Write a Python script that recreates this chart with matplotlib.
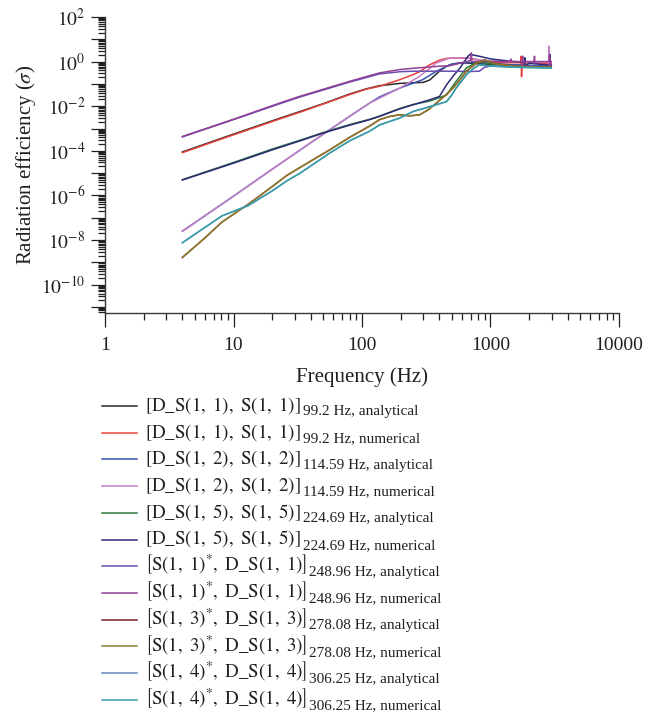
import numpy as np
import matplotlib
matplotlib.use("Agg")
import matplotlib.pyplot as plt
from matplotlib.lines import Line2D
from matplotlib.ticker import LogLocator, NullFormatter, FuncFormatter, FixedLocator

plt.rcParams["font.family"] = ["Liberation Serif", "DejaVu Serif"]
plt.rcParams["mathtext.fontset"] = "stix"
plt.rcParams["text.color"] = "#231f20"
plt.rcParams["axes.labelcolor"] = "#231f20"
plt.rcParams["xtick.color"] = "#231f20"
plt.rcParams["ytick.color"] = "#231f20"

# ---- data (frequency in Hz / radiation efficiency) ----
f_ds11_a = [4, 10, 23, 33, 50, 80, 108, 137, 197, 250, 300, 337, 400, 450, 510, 600, 800, 1000, 1500, 2000, 2970]
s_ds11_a = [8.9e-5, 5.6e-4, 2.9e-3, 5.8e-3, 1.3e-2, 3.5e-2, 6.0e-2, 8.3e-2, 0.105, 0.112, 0.117, 0.15, 0.37, 0.60, 0.79, 0.89, 0.79, 0.76, 0.71, 0.66, 0.63]

f_ds11_n = [4, 10, 23, 33, 50, 80, 108, 137, 197, 250, 281, 337, 400, 455, 550, 650, 820, 930, 1200, 1720, 1735, 1745, 1760, 2000, 2500, 2970]
s_ds11_n = [8.3e-5, 5.2e-4, 2.7e-3, 5.4e-3, 1.26e-2, 3.3e-2, 5.8e-2, 7.8e-2, 0.155, 0.26, 0.35, 0.72, 1.15, 1.38, 1.45, 1.45, 1.17, 1.0, 0.89, 0.89, 1.74, 0.21, 0.89, 0.85, 0.83, 0.79]

f_ds12_a = [4, 10, 20, 43, 80, 115, 137, 197, 297, 380, 482, 590, 800, 1000, 1500, 2970]
s_ds12_a = [2.5e-8, 9.3e-7, 1.5e-5, 3.1e-4, 3.5e-3, 1.4e-2, 2.6e-2, 6.5e-2, 0.155, 0.37, 0.72, 0.89, 0.93, 0.83, 0.71, 0.63]

f_ds12_n = [4, 10, 20, 43, 80, 115, 137, 197, 281, 380, 482, 600, 690, 850, 1000, 1500, 2000, 2500, 2835, 2845, 2852, 2870, 2970]
s_ds12_n = [2.45e-8, 9.3e-7, 1.5e-5, 3.1e-4, 3.5e-3, 1.38e-2, 2.3e-2, 6.5e-2, 0.22, 0.87, 1.45, 1.48, 1.41, 1.17, 1.07, 1.0, 0.95, 0.93, 0.93, 4.9, 0.62, 0.9, 0.89]

f_ds15_a = [4, 10, 20, 33, 50, 80, 115, 137, 197, 250, 337, 400, 455, 540, 650, 800, 1000, 1500, 2970]
s_ds15_a = [5.1e-6, 3.0e-5, 1.2e-4, 3.0e-4, 6.6e-4, 1.5e-3, 2.6e-3, 3.6e-3, 7.9e-3, 1.2e-2, 1.7e-2, 2.4e-2, 3.2e-2, 0.13, 0.52, 1.0, 0.79, 0.63, 0.52]

f_ds15_n = [4, 10, 20, 33, 50, 80, 115, 137, 197, 250, 337, 400, 455, 520, 580, 660, 690, 800, 1000, 1500, 1845, 1850, 1855, 2000, 2500, 2895, 2900, 2905, 2970]
s_ds15_n = [4.9e-6, 2.8e-5, 1.1e-4, 2.8e-4, 6.3e-4, 1.4e-3, 2.5e-3, 3.5e-3, 7.6e-3, 1.15e-2, 1.95e-2, 2.7e-2, 9.1e-2, 0.25, 0.52, 1.58, 2.09, 1.78, 1.32, 1.0, 0.95, 1.48, 0.62, 0.85, 0.74, 0.70, 2.09, 0.62, 0.70]

f_s11_a = [4, 10, 23, 33, 80, 137, 197, 250, 330, 500, 700, 820, 900, 1000, 1500, 2970]
s_s11_a = [4.2e-4, 2.5e-3, 1.3e-2, 2.6e-2, 0.12, 0.28, 0.35, 0.37, 0.37, 0.37, 0.36, 0.37, 0.56, 0.63, 0.63, 0.60]

f_s11_n = [4, 10, 23, 33, 80, 137, 197, 250, 400, 482, 600, 690, 705, 710, 715, 800, 1000, 1430, 1440, 1450, 1765, 1780, 1790, 1800, 2190, 2200, 2210, 2220, 2870, 2880, 2890, 2900, 2970]
s_s11_n = [4.4e-4, 2.6e-3, 1.4e-2, 2.8e-2, 0.13, 0.31, 0.44, 0.50, 0.62, 0.65, 0.89, 1.1, 1.1, 2.45, 1.0, 1.02, 1.0, 1.0, 1.3, 1.0, 1.0, 1.74, 0.63, 1.0, 1.0, 1.74, 0.81, 1.0, 1.0, 2.0, 0.62, 1.0, 1.0]

f_s13_a = [4, 6, 8.1, 13, 20, 26, 40, 56, 80, 115, 137, 165, 197, 235, 281, 330, 380, 450, 510, 580, 650, 780, 900, 1100, 1500, 2000, 2970]
s_s13_a = [1.66e-9, 1.26e-8, 6.3e-8, 4.0e-7, 2.5e-6, 7.9e-6, 3.5e-5, 1.1e-4, 4.0e-4, 1.3e-3, 2.5e-3, 3.5e-3, 4.1e-3, 3.7e-3, 4.1e-3, 7.1e-3, 1.4e-2, 3.2e-2, 6.5e-2, 0.155, 0.37, 0.87, 1.17, 0.79, 0.63, 0.59, 0.56]

f_s13_n = [4, 6, 8.1, 13, 20, 26, 40, 56, 80, 115, 137, 165, 197, 235, 281, 330, 380, 450, 510, 580, 650, 780, 900, 1100, 1500, 2000, 2970]
s_s13_n = [1.66e-9, 1.26e-8, 6.3e-8, 4.0e-7, 2.5e-6, 7.9e-6, 3.5e-5, 1.1e-4, 4.0e-4, 1.3e-3, 2.5e-3, 3.5e-3, 4.1e-3, 3.7e-3, 4.1e-3, 7.1e-3, 1.4e-2, 3.2e-2, 6.5e-2, 0.155, 0.37, 0.87, 1.17, 0.79, 0.63, 0.59, 0.56]

f_s14_a = [4, 8.1, 13, 20, 26, 33, 56, 80, 115, 137, 197, 250, 337, 455, 500, 540, 600, 650, 740, 820, 1000, 1500, 2000, 2970]
s_s14_a = [7.6e-9, 1.2e-7, 3.5e-7, 1.6e-6, 4.5e-6, 1.0e-5, 7.9e-5, 2.8e-4, 7.6e-4, 1.45e-3, 2.95e-3, 5.8e-3, 9.5e-3, 1.6e-2, 3.2e-2, 6.5e-2, 0.14, 0.26, 0.50, 0.72, 0.63, 0.56, 0.54, 0.52]

f_s14_n = [4, 8.1, 13, 20, 26, 33, 56, 80, 115, 137, 197, 250, 337, 455, 500, 540, 600, 650, 740, 820, 1000, 1500, 2000, 2970]
s_s14_n = [7.6e-9, 1.2e-7, 3.5e-7, 1.6e-6, 4.5e-6, 1.0e-5, 7.9e-5, 2.8e-4, 7.6e-4, 1.45e-3, 2.95e-3, 5.8e-3, 9.5e-3, 1.6e-2, 3.2e-2, 6.5e-2, 0.14, 0.26, 0.50, 0.72, 0.63, 0.56, 0.54, 0.52]

legend_main = [
    r"$\mathrm{[D\_S(1,\ 1),\ S(1,\ 1)]}$",
    r"$\mathrm{[D\_S(1,\ 1),\ S(1,\ 1)]}$",
    r"$\mathrm{[D\_S(1,\ 2),\ S(1,\ 2)]}$",
    r"$\mathrm{[D\_S(1,\ 2),\ S(1,\ 2)]}$",
    r"$\mathrm{[D\_S(1,\ 5),\ S(1,\ 5)]}$",
    r"$\mathrm{[D\_S(1,\ 5),\ S(1,\ 5)]}$",
    r"$\left[\mathrm{S(1,\ 1)^{*},\ D\_S(1,\ 1)}\right]$",
    r"$\left[\mathrm{S(1,\ 1)^{*},\ D\_S(1,\ 1)}\right]$",
    r"$\left[\mathrm{S(1,\ 3)^{*},\ D\_S(1,\ 3)}\right]$",
    r"$\left[\mathrm{S(1,\ 3)^{*},\ D\_S(1,\ 3)}\right]$",
    r"$\left[\mathrm{S(1,\ 4)^{*},\ D\_S(1,\ 4)}\right]$",
    r"$\left[\mathrm{S(1,\ 4)^{*},\ D\_S(1,\ 4)}\right]$",
]
legend_sub = [
    "99.2 Hz, analytical", "99.2 Hz, numerical",
    "114.59 Hz, analytical", "114.59 Hz, numerical",
    "224.69 Hz, analytical", "224.69 Hz, numerical",
    "248.96 Hz, analytical", "248.96 Hz, numerical",
    "278.08 Hz, analytical", "278.08 Hz, numerical",
    "306.25 Hz, analytical", "306.25 Hz, numerical",
]

colors = ["#2b2b2b", "#e8413c", "#3a55b0", "#c77fc8", "#2e7a3c", "#2e2b78",
          "#6a4cb0", "#923f96", "#7d1f1f", "#8c7d2c", "#6089bd", "#36a0a5"]

x_ticks = [1, 10, 100, 1000, 10000]
x_tick_labels = ["1", "10", "100", "1000", "10000"]

series = [
    (f_ds11_a, s_ds11_a), (f_ds11_n, s_ds11_n),
    (f_ds12_a, s_ds12_a), (f_ds12_n, s_ds12_n),
    (f_ds15_a, s_ds15_a), (f_ds15_n, s_ds15_n),
    (f_s11_a, s_s11_a), (f_s11_n, s_s11_n),
    (f_s13_a, s_s13_a), (f_s13_n, s_s13_n),
    (f_s14_a, s_s14_a), (f_s14_n, s_s14_n),
]

W, H = 658, 718


def plot():
    fig = plt.figure(figsize=(W / 100, H / 100), dpi=100)
    ax = fig.add_axes([0.1596, 0.5641, 0.7811, 0.4123])

    for (f, s), c in zip(series, colors):
        ax.plot(f, s, color=c, linewidth=1.1)

    ax.set_xscale("log")
    ax.set_yscale("log")
    ax.set_xlim(1, 10000)
    ax.set_ylim(5.4e-12, 100)

    for side in ("top", "right"):
        ax.spines[side].set_visible(False)
    for side in ("left", "bottom"):
        ax.spines[side].set_color("#3a3a3a")
        ax.spines[side].set_linewidth(1.0)

    ax.set_xticks(x_ticks)
    ax.set_xticklabels(x_tick_labels)
    ax.xaxis.set_minor_locator(LogLocator(base=10, subs=np.arange(2, 10), numticks=100))
    ax.xaxis.set_minor_formatter(NullFormatter())

    ax.yaxis.set_major_locator(FixedLocator([10.0 ** k for k in range(-11, 3)]))
    ax.yaxis.set_major_formatter(FuncFormatter(
        lambda v, pos: r"$10^{%d}$" % round(np.log10(v)) if round(np.log10(v)) % 2 == 0 else ""))
    ax.yaxis.set_minor_locator(LogLocator(base=10, subs=np.arange(2, 10), numticks=100))
    ax.yaxis.set_minor_formatter(NullFormatter())

    ax.tick_params(axis="both", which="major", direction="out", length=10, width=0.9, labelsize=14)
    ax.tick_params(axis="both", which="minor", direction="out", length=5, width=0.9)
    ax.tick_params(axis="x", which="major", pad=7)
    ax.tick_params(axis="y", which="major", pad=4)

    ax.set_xlabel("Frequency (Hz)", fontsize=15, labelpad=10)
    ax.set_ylabel(r"Radiation efficiency ($\sigma$)", fontsize=15, labelpad=2)

    # legend below the axes, one row per series
    for i, (c, main, sub) in enumerate(zip(colors, legend_main, legend_sub)):
        y = 1 - (406 + i * 26.7) / H
        fig.add_artist(Line2D([102 / W, 137 / W], [y, y], transform=fig.transFigure,
                              color=c, linewidth=1.1))
        t = fig.text(145 / W, y - 4.5 / H, main, fontsize=13.6, va="baseline", ha="left")
        ax.annotate(sub, xy=(1, 0), xycoords=t, xytext=(1.5, 0.5), textcoords="offset points",
                    fontsize=11, va="baseline", ha="left")

    fig.savefig("out.png", dpi=100)


if __name__ == "__main__":
    plot()
